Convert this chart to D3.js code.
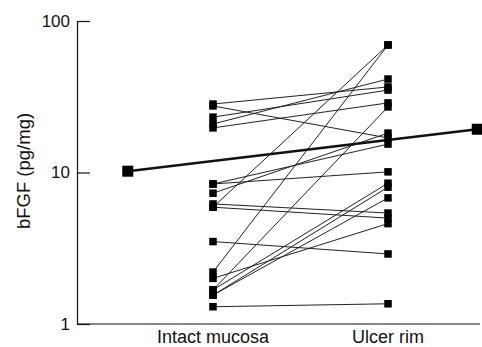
<!DOCTYPE html>
<html>
<head>
<meta charset="utf-8">
<script src="https://cdn.jsdelivr.net/npm/d3@7"></script>
<style>
  body { margin: 0; background: #fff; }
  svg text { font-family: "Liberation Sans", Arial, sans-serif; fill: #111; }
</style>
</head>
<body>
<div id="chart"></div>
<script>
// paired samples: intact mucosa vs ulcer rim (pg/mg)
const categories = ['Intact mucosa', 'Ulcer rim'];
const intact = [28.3, 27.5, 23.2, 20.9, 19.7, 8.4, 8.4, 7.3, 6.2, 5.9, 5.9, 3.5, 2.2, 2.0, 1.68, 1.68, 1.55, 1.55, 1.3];
const ulcer  = [36.7, 16.9, 35.0, 41.4, 28.8, 10.1, 15.4, 18.2, 5.4, 5.0, 69.5, 2.9, 69.5, 4.6, 27.1, 8.5, 8.0, 6.8, 1.36];
// mean values shown at the outer ends
const meanValues = [10.2, 19.3];
const yTicks = [1, 10, 100];

const width = 482, height = 347;
const margin = { top: 21, left: 77, bottom: 23 };

const svg = d3.select('#chart')
  .append('svg')
  .attr('width', width)
  .attr('height', height);

// log y scale
const y = d3.scaleLog()
  .domain([1, 100])
  .range([height - margin.bottom, margin.top]);

// x: 0 = intact, 1 = ulcer rim
const x = d3.scaleLinear()
  .domain([0, 1])
  .range([213, 388]);

// y axis, ticks point inward
const yAxis = svg.append('g')
  .attr('transform', `translate(${margin.left},0)`)
  .call(d3.axisLeft(y).tickValues(yTicks).tickSize(-13).tickFormat(d3.format('d')).tickPadding(7));
yAxis.select('.domain').attr('stroke', '#111').attr('stroke-width', 1.2);
yAxis.selectAll('.tick line').attr('stroke', '#111').attr('stroke-width', 1.2);
yAxis.selectAll('.tick text').attr('font-size', 17).attr('fill', '#111')
  .attr('font-family', '"Liberation Sans", Arial, sans-serif');

// x axis line with category labels
const y0 = y(1);
svg.append('line')
  .attr('x1', margin.left).attr('x2', 480)
  .attr('y1', y0).attr('y2', y0)
  .attr('stroke', '#111').attr('stroke-width', 1.2);

svg.selectAll('.cat')
  .data(categories)
  .enter()
  .append('text')
  .attr('x', (d, i) => x(i))
  .attr('y', y0 + 19)
  .attr('text-anchor', 'middle')
  .attr('font-size', 18)
  .text(d => d);

// y title
svg.append('text')
  .attr('transform', `translate(30,171) rotate(-90)`)
  .attr('text-anchor', 'middle')
  .attr('font-size', 18.5)
  .text('bFGF (pg/mg)');

// paired lines
const pairs = intact.map((v, i) => [v, ulcer[i]]);
svg.selectAll('.pair')
  .data(pairs)
  .enter()
  .append('line')
  .attr('x1', x(0)).attr('x2', x(1))
  .attr('y1', d => y(d[0]))
  .attr('y2', d => y(d[1]))
  .attr('stroke', '#222')
  .attr('stroke-width', 1);

// mean line
const meanX = [x(-0.487), x(1.51)];
svg.append('line')
  .attr('x1', meanX[0]).attr('x2', meanX[1])
  .attr('y1', y(meanValues[0])).attr('y2', y(meanValues[1]))
  .attr('stroke', '#111')
  .attr('stroke-width', 2.4);

// square markers
const s = 7.5;
svg.selectAll('.ptA')
  .data(intact)
  .enter()
  .append('rect')
  .attr('x', x(0) - s / 2)
  .attr('y', d => y(d) - s / 2)
  .attr('width', s).attr('height', s)
  .attr('fill', '#000');

svg.selectAll('.ptB')
  .data(ulcer)
  .enter()
  .append('rect')
  .attr('x', x(1) - s / 2)
  .attr('y', d => y(d) - s / 2)
  .attr('width', s).attr('height', s)
  .attr('fill', '#000');

const m = 11;
svg.selectAll('.mean')
  .data(meanValues)
  .enter()
  .append('rect')
  .attr('x', (d, i) => meanX[i] - m / 2)
  .attr('y', d => y(d) - m / 2)
  .attr('width', m).attr('height', m)
  .attr('fill', '#000');
</script>
</body>
</html>
